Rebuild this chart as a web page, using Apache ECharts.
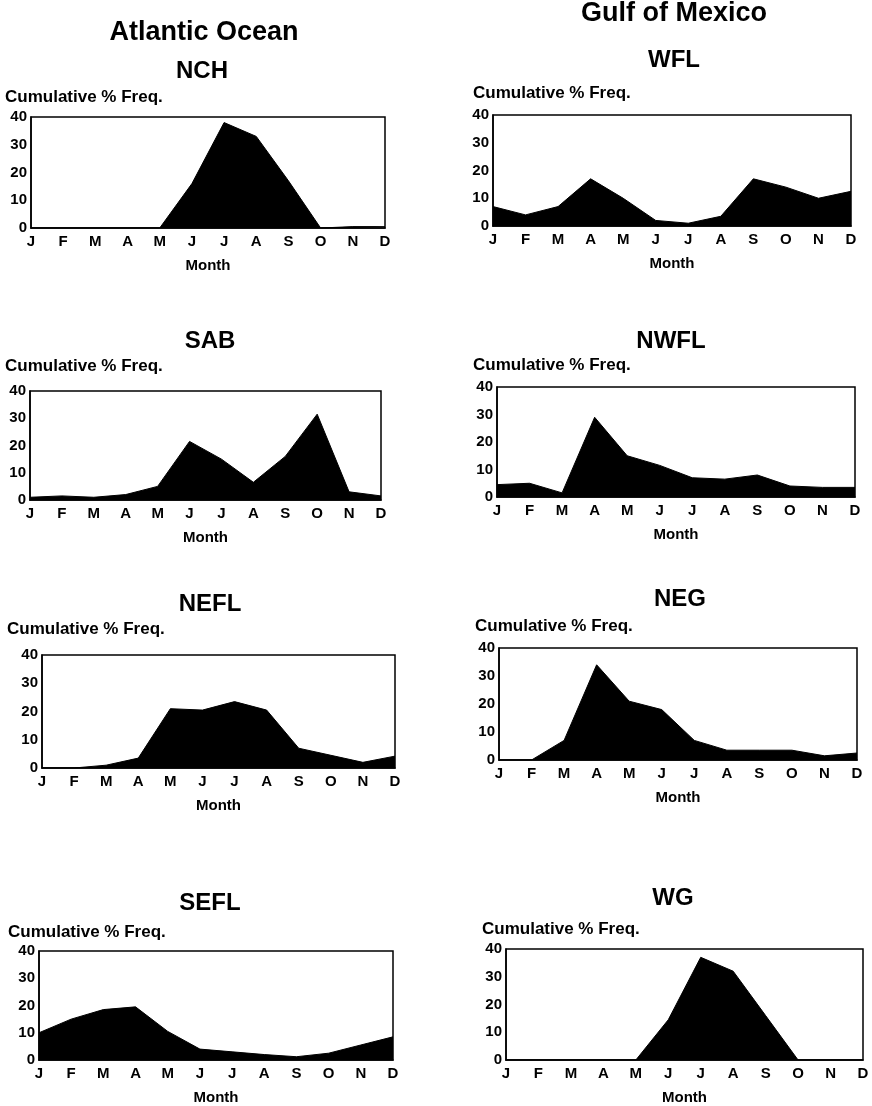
<!DOCTYPE html>
<html>
<head>
<meta charset="utf-8">
<script src="https://cdn.jsdelivr.net/npm/echarts@6/dist/echarts.min.js"></script>
<style>
html,body{margin:0;padding:0;background:#fff;}
#chart{width:872px;height:1106px;}
</style>
</head>
<body>
<div id="chart"></div>
<script>
const months = ['Jan','Feb','Mar','Apr','May','Jun','Jul','Aug','Sep','Oct','Nov','Dec'];
const yTicks = [0, 10, 20, 30, 40];

const NCH  = [0, 0, 0, 0, 0, 16, 38, 33, 17, 0, 0.5, 0.5];
const WFL  = [7, 4, 7, 17, 10, 2, 1, 3.5, 17, 14, 10, 12.5];
const SAB  = [1, 1.5, 1, 2, 5, 21.5, 15, 6.5, 16, 31.5, 3, 1.5];
const NWFL = [4.5, 5, 1.5, 29, 15, 11.5, 7, 6.5, 8, 4, 3.5, 3.5];
const NEFL = [0, 0, 1, 3.5, 21, 20.5, 23.5, 20.5, 7, 4.5, 2, 4.2];
const NEG  = [0, 0, 7, 34, 21, 18, 7, 3.5, 3.5, 3.5, 1.5, 2.5];
const SEFL = [10, 15, 18.5, 19.5, 10.5, 4, 3, 2, 1.2, 2.5, 5.5, 8.5];
const WG   = [0, 0, 0, 0, 0, 14.5, 37, 32, 16, 0, 0, 0];

const regionTitles = ['Atlantic Ocean', 'Gulf of Mexico'];
const panelNames = ['NCH', 'WFL', 'SAB', 'NWFL', 'NEFL', 'NEG', 'SEFL', 'WG'];
const panelData = [NCH, WFL, SAB, NWFL, NEFL, NEG, SEFL, WG];
const yLabel = 'Cumulative % Freq.';
const xLabel = 'Month';

// layout (pixels): grid boxes, titles, y-label positions
const boxes = [
  {l: 31,  r: 385, t: 117, b: 228},
  {l: 493, r: 851, t: 115, b: 226},
  {l: 30,  r: 381, t: 391, b: 500},
  {l: 497, r: 855, t: 387, b: 497},
  {l: 42,  r: 395, t: 655, b: 768},
  {l: 499, r: 857, t: 648, b: 760},
  {l: 39,  r: 393, t: 951, b: 1064},
  {l: 506, r: 863, t: 949, b: 1062}
];
const titlePos = [[202, 71], [674, 60], [210, 341], [671, 341], [210, 604], [680, 599], [210, 903], [673, 898]];
const yLabelPos = [[5, 97], [473, 93], [5, 366], [473, 365], [7, 629], [475, 626], [8, 932], [482, 929]];
const regionPos = [[204, 33], [674, 14]];

const FONT = "'Liberation Sans', Arial, Helvetica, sans-serif";
const W = 872, H = 1106;

const grids = [], xAxes = [], yAxes = [], series = [], graphics = [];
boxes.forEach((b, i) => {
  grids.push({
    left: b.l, top: b.t, width: b.r - b.l, height: b.b - b.t,
    show: true, borderColor: '#000', borderWidth: 1.5, backgroundColor: '#fff'
  });
  xAxes.push({
    type: 'category', gridIndex: i, data: months, boundaryGap: false,
    axisLine: {show: true, lineStyle: {color: '#000', width: 1.5}},
    axisTick: {show: false},
    axisLabel: {
      color: '#000', fontFamily: FONT, fontWeight: 'bold', fontSize: 15, margin: 6,
      interval: 0, formatter: v => v.charAt(0)
    },
    splitLine: {show: false},
    name: xLabel, nameLocation: 'middle', nameGap: 30,
    nameTextStyle: {color: '#000', fontFamily: FONT, fontWeight: 'bold', fontSize: 15}
  });
  yAxes.push({
    type: 'value', gridIndex: i, min: yTicks[0], max: yTicks[yTicks.length - 1],
    interval: yTicks[1] - yTicks[0],
    axisLine: {show: true, lineStyle: {color: '#000', width: 1.5}},
    axisTick: {show: false},
    splitLine: {show: false},
    axisLabel: {color: '#000', fontFamily: FONT, fontWeight: 'bold', fontSize: 15, margin: 4}
  });
  series.push({
    type: 'line', xAxisIndex: i, yAxisIndex: i, data: panelData[i],
    symbol: 'none', silent: true,
    lineStyle: {color: '#000', width: 1},
    areaStyle: {color: '#000', opacity: 1}
  });
  graphics.push({
    type: 'text', x: titlePos[i][0], y: titlePos[i][1],
    style: {text: panelNames[i], fill: '#000', font: 'bold 24px ' + FONT, align: 'center', verticalAlign: 'middle'}
  });
  graphics.push({
    type: 'text', x: yLabelPos[i][0], y: yLabelPos[i][1],
    style: {text: yLabel, fill: '#000', font: 'bold 17px ' + FONT, align: 'left', verticalAlign: 'middle'}
  });
});
regionTitles.forEach((t, i) => {
  graphics.push({
    type: 'text', x: regionPos[i][0], y: regionPos[i][1],
    style: {text: t, fill: '#000', font: 'bold 27px ' + FONT, align: 'center', verticalAlign: 'middle'}
  });
});

const chart = echarts.init(document.getElementById('chart'), null, {renderer: 'canvas', width: W, height: H});
chart.setOption({
  backgroundColor: '#fff',
  animation: false,
  grid: grids,
  xAxis: xAxes,
  yAxis: yAxes,
  series: series,
  graphic: graphics
});
</script>
</body>
</html>
